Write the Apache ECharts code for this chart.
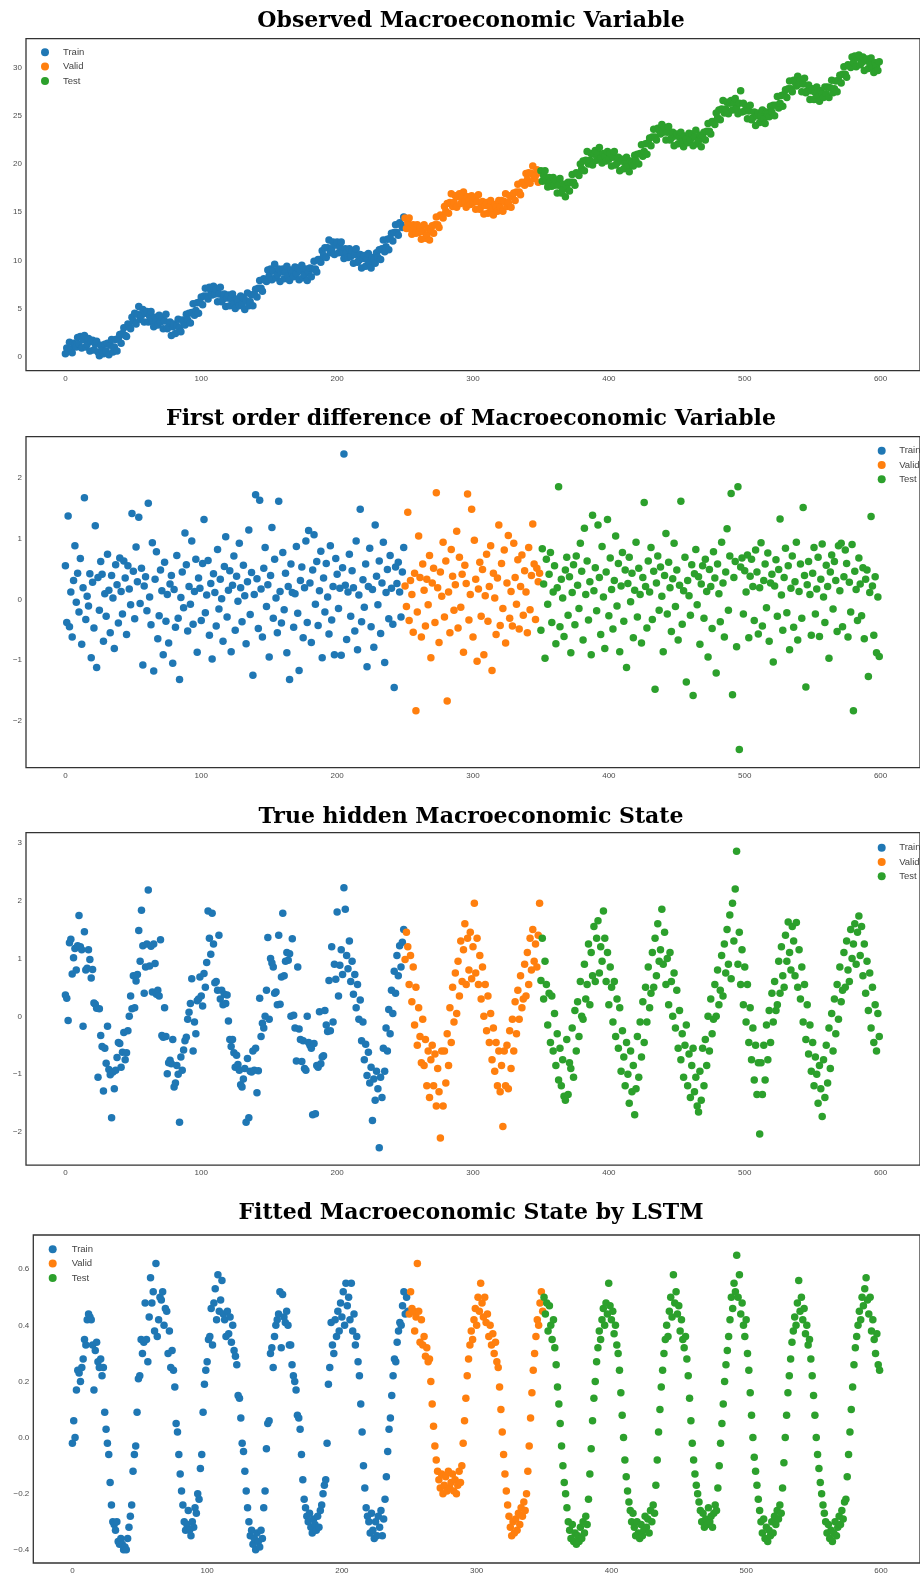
<!DOCTYPE html>
<html><head><meta charset="utf-8">
<script src="https://cdn.jsdelivr.net/npm/echarts@6/dist/echarts.min.js"></script>
<style>html,body{margin:0;padding:0;background:#fff}#c{width:920px;height:1575px}</style>
</head><body><div id="c"></div>
<script>
// ---------------- DATA ----------------
const splitNames = ['Train', 'Valid', 'Test'];
const panelTitles = [
  'Observed Macroeconomic Variable',
  'First order difference of Macroeconomic Variable',
  'True hidden Macroeconomic State',
  'Fitted Macroeconomic State by LSTM'
];
const xTickValues = [0, 100, 200, 300, 400, 500, 600];
const observedTicks = [0, 5, 10, 15, 20, 25, 30];
const diffTicks = [-2, -1, 0, 1, 2];
const hiddenTicks = [-2, -1, 0, 1, 2, 3];
const fittedTicks = [-0.4, -0.2, 0.0, 0.2, 0.4, 0.6];

// Panel 1: observed variable
const observedTrain = [
0.3,0.9,0.6,1.5,0.8,0.4,1.4,1.2,1.0,2.0,1.3,2.1,0.9,1.8,2.2,1.0,1.3,1.9,0.6,1.6,
1.7,0.7,1.3,1.6,0.5,0.1,1.2,0.7,0.3,1.3,0.6,1.4,0.2,1.2,1.8,0.5,1.0,1.8,0.6,1.9,
2.3,1.4,2.4,3.0,2.2,2.1,3.4,3.2,2.9,4.1,3.7,4.5,3.4,4.4,5.2,3.9,4.3,4.9,3.6,4.5,
4.7,3.6,4.2,4.7,3.6,3.1,4.1,3.8,3.3,4.3,3.6,4.1,2.9,3.7,4.4,2.9,3.1,3.6,2.2,3.1,
3.4,2.4,3.2,3.9,3.0,2.6,3.8,3.6,3.3,4.4,3.8,4.5,3.5,4.6,5.5,4.3,4.8,5.6,4.5,5.7,
6.2,5.4,6.3,7.1,6.3,6.0,7.2,6.9,6.4,7.3,6.5,7.0,5.7,6.5,7.2,5.7,6.0,6.5,5.2,6.1,
6.4,5.3,6.0,6.5,5.5,5.0,6.0,5.7,5.3,6.3,5.5,6.1,4.9,5.8,6.6,5.3,5.7,6.4,5.3,6.5,
7.0,6.2,7.1,7.9,7.1,6.8,8.1,8.0,7.8,9.0,8.4,9.1,8.0,8.9,9.6,8.2,8.5,9.1,7.8,8.8,
9.1,8.1,8.8,9.4,8.4,7.9,9.0,8.7,8.3,9.3,8.6,9.2,8.0,8.9,9.5,8.2,8.5,9.1,7.9,8.8,
9.2,8.3,9.1,9.9,9.1,8.8,10.1,10.0,9.8,11.0,10.5,11.3,10.3,11.3,12.1,10.8,11.2,11.9,10.6,11.6,
11.9,10.8,11.4,11.9,10.8,10.2,11.2,10.8,10.3,11.2,10.4,11.0,9.7,10.6,11.2,9.8,10.0,10.6,9.2,10.2,
10.5,9.4,10.1,10.7,9.7,9.2,10.3,10.0,9.7,10.8,10.3,11.1,10.1,11.2,12.1,10.9,11.4,12.2,11.1,12.3,
12.8,12.0,12.9,13.7,12.9,12.6,13.9,13.7,13.4,14.5];
const observedValid = [
14.4,13.3,13.9,14.4,13.3,12.7,13.7,13.3,12.8,13.7,12.9,13.4,12.2,13.0,13.7,12.3,12.6,13.3,12.1,13.2,
13.6,12.8,13.7,14.5,13.7,13.4,14.7,14.6,14.4,15.6,15.1,15.9,14.9,16.0,16.9,15.6,16.0,16.7,15.5,16.6,
16.9,15.9,16.6,17.1,16.1,15.5,16.6,16.2,15.8,16.7,16.0,16.5,15.3,16.1,16.8,15.3,15.6,16.1,14.8,15.7,
16.0,14.9,15.6,16.2,15.2,14.7,15.8,15.5,15.1,16.2,15.5,16.2,15.1,16.1,16.9,15.6,16.0,16.7,15.5,16.6,
17.0,16.2,17.1,17.9,17.1,16.8,18.1,18.0,17.8,19.0,18.4,19.1,18.0,19.0,19.8,18.5,18.8,19.4,18.1,19.1];
const observedTest = [
19.3,18.2,18.8,19.3,18.2,17.6,18.6,18.2,17.7,18.6,17.8,18.3,17.0,17.8,18.5,17.0,17.3,17.9,16.6,17.7,
18.1,17.2,18.1,18.9,18.1,17.8,19.1,19.0,18.8,20.0,19.5,20.3,19.3,20.4,21.3,20.0,20.4,21.1,19.9,21.0,
21.4,20.4,21.1,21.7,20.6,20.1,21.1,20.8,20.3,21.3,20.5,21.1,19.8,20.7,21.3,19.9,20.1,20.7,19.3,20.3,
20.5,19.5,20.1,20.7,19.7,19.2,20.3,20.1,19.8,20.9,20.3,21.0,20.0,21.1,22.0,20.8,21.3,22.1,21.0,22.2,
22.7,21.9,22.8,23.6,22.8,22.5,23.7,23.5,23.1,24.1,23.3,23.8,22.5,23.3,23.9,22.5,22.7,23.3,21.9,22.9,
23.1,22.1,22.8,23.3,22.3,21.8,22.9,22.6,22.2,23.2,22.5,23.1,21.9,22.8,23.5,22.1,22.4,23.0,21.8,22.9,
23.3,22.5,23.4,24.2,23.4,23.1,24.4,24.3,24.1,25.3,24.8,25.6,24.6,25.7,26.6,25.3,25.7,26.4,25.2,26.3,
26.6,25.6,26.3,26.8,25.8,25.2,26.3,27.6,25.4,26.3,25.5,26.0,24.7,25.5,26.1,24.6,24.8,25.4,24.0,25.0,
25.3,24.3,25.0,25.6,24.7,24.2,25.4,25.2,24.9,26.0,25.4,26.1,25.0,26.1,27.0,25.8,26.3,27.1,26.0,27.2,
27.7,26.9,27.8,28.6,27.8,27.5,28.7,28.5,28.1,29.1,28.3,28.8,27.5,28.3,28.9,27.4,27.6,28.2,26.7,27.6,
27.8,26.7,27.4,28.0,27.0,26.5,27.6,27.3,26.9,28.0,27.3,28.0,26.9,27.9,28.7,27.4,27.8,28.6,27.5,28.7,
29.2,28.4,29.3,30.1,29.3,29.0,30.3,30.2,30.0,31.1,30.5,31.2,30.1,31.0,31.3,30.3,30.5,31.1,29.7,30.7,
30.9,29.9,30.5,31.0,30.0,29.5,30.5,30.2,29.7,30.6];

// Panel 2: first order difference
const diffTrain = [
0.55,-0.38,1.37,-0.45,0.12,-0.62,0.31,0.88,-0.05,0.43,-0.21,0.67,-0.74,0.19,1.67,-0.33,0.05,-0.11,0.42,-0.96,
0.28,-0.47,1.21,-1.12,0.36,-0.18,0.62,0.41,-0.69,0.09,-0.28,0.74,0.15,-0.55,0.39,0.02,-0.81,0.57,0.24,-0.39,
0.68,0.13,-0.24,0.63,0.35,-0.58,0.55,0.17,-0.09,1.41,0.46,-0.32,0.86,0.29,1.35,-0.07,0.51,-1.08,0.22,0.37,
-0.19,1.58,0.04,-0.42,0.93,-1.18,0.33,0.78,-0.65,-0.27,0.48,0.14,-0.91,0.61,-0.36,0.08,-0.72,0.25,0.39,-1.05,
0.16,-0.46,0.72,-0.31,-1.32,0.03,0.45,-0.14,1.09,0.57,-0.52,0.21,-0.08,0.96,-0.41,0.13,0.66,-0.87,0.35,0.18,
-0.35,0.59,1.31,-0.22,0.07,0.64,-0.59,0.26,-0.98,0.42,0.11,-0.44,0.82,-0.16,0.33,0.01,-0.69,0.54,1.03,-0.29,
0.15,0.47,-0.86,0.23,0.71,-0.51,0.38,-0.03,0.92,0.19,-0.37,0.56,0.06,-0.73,0.29,1.14,-0.25,0.44,-1.25,0.08,
1.72,0.34,-0.48,1.63,0.17,-0.62,0.51,0.85,-0.12,0.24,-0.95,0.39,1.18,-0.31,0.66,0.02,-0.55,1.61,0.13,-0.39,
0.77,-0.17,0.43,-0.88,0.21,-1.32,0.58,0.11,-0.46,0.09,0.87,-0.23,-1.17,0.31,0.53,-0.63,0.19,0.96,-0.38,1.13,
0.27,-0.71,0.48,1.06,-0.08,0.62,-0.43,0.14,0.79,-0.96,0.35,-0.21,0.59,0.04,-0.57,0.88,-0.34,0.21,-0.91,0.67,
0.41,-0.15,0.18,-0.92,0.52,2.39,0.23,-0.66,0.12,0.74,-0.28,0.47,0.19,-0.52,0.96,-0.83,0.07,1.48,-0.37,0.32,
-0.13,0.58,-1.11,0.21,0.84,-0.45,0.16,-0.79,1.22,0.38,-0.09,0.63,-0.56,0.27,0.94,-1.04,0.11,0.49,-0.32,0.72,
0.18,-0.41,-1.45,0.53,0.26,0.61,0.12,-0.29,0.45,0.85];
const diffValid = [
0.22,-0.12,1.43,-0.35,0.31,0.08,-0.54,0.43,-1.83,-0.21,1.04,0.36,-0.62,0.58,0.15,-0.44,0.33,-0.09,0.72,-0.96,
0.27,0.51,-0.38,1.75,0.19,-0.71,0.45,0.05,0.94,-0.29,0.63,-1.67,0.12,-0.55,0.82,0.38,-0.18,0.24,1.12,-0.47,
0.69,-0.13,0.41,-0.87,0.56,0.26,1.73,-0.34,0.08,1.48,-0.62,0.97,0.33,-1.02,0.17,0.61,-0.28,0.49,-0.91,0.06,
0.74,-0.36,0.21,0.88,-1.17,0.43,0.02,-0.58,0.35,1.22,-0.43,0.59,-0.15,0.81,-0.72,0.27,1.05,-0.31,0.13,-0.44,
0.92,0.36,-0.08,0.65,-0.49,0.21,0.73,-0.26,0.47,0.12,-0.55,0.85,-0.17,0.39,1.24,0.58,-0.33,0.51,0.29,0.43];
const diffTest = [
-0.51,0.83,0.25,-0.97,0.66,-0.08,0.41,0.77,-0.38,0.12,0.55,-0.73,0.19,1.85,-0.45,0.33,0.02,-0.61,0.48,0.69,
-0.26,0.37,-0.88,0.11,0.57,-0.42,0.71,0.23,-0.15,0.92,0.46,-0.67,1.17,0.08,0.63,-0.34,0.29,-0.91,1.38,0.14,
0.52,-0.19,1.22,0.36,-0.58,0.87,0.04,-0.81,0.45,1.31,-0.27,0.68,0.16,-0.49,0.31,1.04,-0.11,0.59,-0.86,0.22,
0.77,-0.36,0.48,-1.12,0.26,0.69,-0.04,0.43,-0.63,0.15,0.94,-0.29,0.51,0.08,-0.72,0.36,1.59,0.21,-0.47,0.63,
0.12,0.85,-0.33,0.46,-1.48,0.27,0.71,-0.18,0.53,0.05,-0.86,0.39,1.08,-0.24,0.61,0.19,-0.53,0.34,0.92,-0.12,
0.48,-0.67,0.23,1.61,-0.41,0.14,0.69,-1.36,0.31,0.06,-0.26,0.57,-1.58,0.42,0.82,-0.09,0.37,-0.74,0.25,0.55,
-0.31,0.66,0.13,-0.95,0.49,0.21,-0.48,0.78,0.35,-1.21,0.58,0.09,-0.37,0.94,0.27,-0.62,0.45,1.16,-0.18,0.71,
1.74,-1.57,0.36,0.62,-0.78,1.85,-2.47,0.53,0.68,-0.24,0.47,0.12,0.73,-0.63,0.38,0.66,0.21,-0.35,0.81,0.45,
-0.57,0.19,0.93,-0.44,0.31,0.58,-0.14,0.76,-0.69,0.27,0.41,-1.03,0.22,0.65,-0.28,0.49,1.32,0.07,-0.51,0.36,
0.84,-0.22,0.55,-0.83,0.18,0.71,-0.46,0.29,0.94,-0.67,0.13,0.58,-0.31,1.51,0.39,-1.44,0.24,0.62,0.08,-0.59,
0.43,0.85,-0.24,0.17,0.69,-0.61,0.33,0.91,0.04,-0.38,0.56,0.21,-0.97,0.45,0.73,-0.16,0.62,0.31,-0.53,0.88,
0.14,0.92,-0.45,0.37,0.81,0.59,-0.62,0.28,-0.21,0.9,-1.83,0.46,0.16,-0.35,0.68,0.25,-0.27,0.52,-0.65,0.33,
0.48,-1.27,0.11,1.36,0.22,-0.59,0.37,-0.88,0.04,-0.94];

// Panel 3: true hidden state
const hiddenTrain = [
0.37,0.31,-0.07,1.27,1.33,0.73,1.01,1.17,0.8,1.22,1.74,1.2,
1.15,-0.17,1.46,0.8,0.83,1.15,0.98,0.66,0.81,0.23,0.21,0.14,-1.05,0.13,-0.33,-0.52,-1.29,-0.55,-0.81,-0.17,-0.92,-1.01,-1.75,-0.96,
-1.25,-0.93,-0.71,-0.45,-0.47,-0.88,-0.62,-0.28,-0.75,-0.63,-0.25,0.0,0.35,0.13,0.7,0.15,0.61,0.72,1.48,0.95,1.83,1.22,0.4,0.85,1.25,2.18,
0.87,1.21,0.42,1.25,0.91,0.38,0.45,0.35,1.32,-0.33,-0.36,0.15,-0.35,-0.99,-0.8,-0.76,-0.82,-0.4,-1.22,-1.15,-0.85,-1.0,-1.83,-0.7,
-0.93,-0.58,-0.42,-0.36,-0.05,0.07,0.22,0.65,-0.6,-0.1,-0.3,0.27,0.3,0.68,0.35,0.18,0.74,0.5,0.93,1.82,1.35,1.07,1.78,
1.25,0.58,0.6,0.45,1.4,0.3,0.45,0.2,0.38,0.22,0.37,-0.08,-0.4,-0.52,-0.4,-0.63,-0.88,-0.67,-0.83,-0.93,-1.18,-1.22,-1.08,-0.9,-1.83,-0.73,-1.75,
-0.95,-0.96,-0.6,-0.93,-0.55,-1.32,-0.94,0.31,-0.35,-0.12,-0.2,0.0,0.45,1.36,-0.05,1.0,0.92,0.85,0.4,0.42,0.2,1.4,0.21,0.68,1.78,0.7,
0.95,1.1,0.97,1.08,0.0,1.34,0.02,-0.2,-0.77,0.85,-0.22,-0.4,-0.78,-0.42,-0.9,-0.93,0.0,-0.45,-0.5,-0.55,-1.7,-0.47,-1.68,-0.85,
-0.88,0.08,-0.82,-0.7,-0.68,0.1,-0.15,-0.26,0.62,-0.25,1.2,-0.1,0.9,0.64,1.8,0.35,0.88,1.15,0.72,2.22,
1.85,1.05,0.82,1.3,0.6,0.95,0.38,0.72,0.15,0.55,-0.05,0.28,-0.42,-0.1,-0.75,-0.48,-1.02,-0.62,-1.15,-0.88,-1.8,-1.08,-1.45,-0.95,-1.25,-2.27,
-1.05,-1.4,-0.55,-0.95,-0.2,-0.6,0.12,-0.3,0.45,0.05,0.78,0.4,1.05,0.7,1.22,0.85,1.28,1.5];
const hiddenValid = [
0.98,1.45,1.2,0.55,1.05,0.25,0.85,-0.15,0.5,-0.5,0.15,-0.35,-0.8,-0.05,-0.85,-0.4,-1.2,-0.6,-1.4,-0.75,-0.5,-1.2,-0.65,-1.55,-0.9,-1.3,-2.1,-0.6,
-1.55,-0.6,-1.15,-0.3,-0.85,0.15,-0.45,0.5,-0.1,0.75,0.05,0.95,0.35,1.3,0.6,1.15,1.6,0.55,1.35,0.8,1.45,0.65,1.2,1.95,0.75,
1.35,0.55,1.05,0.3,0.85,0.0,0.55,-0.25,0.35,-0.45,0.05,-0.75,-0.2,-0.95,-0.45,-1.2,-0.6,-1.3,-0.85,-1.9,-0.6,
-1.2,-0.5,-1.25,-0.25,-0.9,-0.05,-0.6,0.25,-0.3,0.45,-0.05,0.7,0.15,0.3,0.9,0.35,1.1,0.55,1.35,0.8,1.5,0.95,1.25,0.85,1.4,1.95];
const hiddenTest = [
0.62,1.35,0.3,0.95,0.55,-0.15,0.4,-0.45,0.35,-0.6,0.05,-0.85,-0.3,-1.1,-0.55,-1.2,-0.75,-1.38,-1.45,
-0.4,-1.35,-0.8,-0.9,-0.2,-1.05,0.1,-0.6,0.25,-0.35,0.6,0.0,-0.05,0.9,0.3,0.55,1.25,0.2,1.1,0.7,1.55,0.6,1.35,1.65,0.75,1.2,0.95,1.82,
1.35,0.6,1.1,0.2,0.85,0.5,-0.1,0.6,-0.35,0.3,-0.55,0.15,-0.95,-0.25,-0.7,-1.2,-0.45,-1.0,-1.5,-0.6,-1.3,-0.85,-1.7,
-1.25,-0.35,-1.05,-0.1,-0.7,0.25,-0.45,0.5,-0.1,0.85,0.15,0.4,1.1,0.5,1.35,0.7,1.6,0.95,1.15,1.85,0.9,
1.45,0.55,1.0,0.2,1.1,0.6,0.0,0.75,-0.2,0.45,-0.55,0.1,-0.75,-0.3,-1.05,-0.5,-0.15,-1.2,-0.65,-1.4,-0.85,-0.55,-1.3,-1.05,-1.55,-1.65,
-0.95,-1.45,-0.55,-1.2,-0.4,-0.85,0.0,-0.6,0.3,-0.3,-0.05,0.55,0.0,0.8,0.2,0.45,1.05,0.35,1.25,0.75,1.5,0.9,1.75,0.65,1.95,1.3,2.2,2.85,
0.9,1.45,0.55,1.15,0.2,0.85,-0.1,0.55,-0.45,0.15,-0.75,-0.2,-1.1,-0.5,-1.35,-0.8,-2.03,
-0.8,-1.35,-0.5,-1.1,-0.15,-0.75,0.1,-0.45,0.4,-0.1,0.6,0.1,0.2,0.95,0.4,1.2,0.7,0.5,1.4,0.95,1.63,1.1,0.8,1.55,
1.3,0.7,1.62,0.5,1.15,0.3,0.85,-0.1,0.55,-0.4,0.2,-0.65,-0.15,-0.95,-0.45,-1.2,-0.7,-1.0,-1.5,-0.85,-1.25,-1.73,
-0.75,-1.4,-0.5,-1.15,-0.2,-0.9,0.05,-0.6,0.3,-0.3,0.55,-0.05,0.85,0.25,0.45,1.1,0.5,1.3,0.8,0.6,1.5,1.0,1.25,1.6,0.9,1.45,1.73,
1.05,1.55,0.7,1.25,0.4,0.95,0.1,0.75,-0.2,0.5,-0.45,0.2,-0.6,0.05,-0.35];

// Panel 4: fitted state by LSTM
const fittedTrain = [
-0.02,0.06,0.0,0.17,0.24,0.23,0.2,0.25,0.28,0.35,0.33,0.42,0.44,0.43,0.42,0.33,0.17,0.31,0.34,0.27,0.25,0.28,0.22,0.25,0.09,
0.03,-0.02,-0.06,-0.16,-0.24,-0.3,-0.31,-0.33,-0.3,-0.37,-0.38,-0.36,-0.38,-0.4,-0.39,-0.4,-0.36,-0.32,-0.28,-0.24,-0.12,-0.06,-0.03,0.09,0.21,
0.22,0.35,0.3,0.34,0.48,0.35,0.27,0.43,0.57,0.48,0.52,0.38,0.62,0.36,0.42,0.5,0.49,0.52,0.4,0.46,0.45,0.3,0.38,0.25,0.31,
0.24,0.18,0.05,0.02,-0.06,-0.13,-0.19,-0.24,-0.3,-0.33,-0.31,-0.26,-0.33,-0.35,-0.3,-0.32,-0.25,-0.27,-0.2,-0.22,-0.11,-0.06,0.09,0.19,0.24,
0.27,0.35,0.36,0.46,0.33,0.48,0.53,0.42,0.58,0.45,0.49,0.56,0.44,0.42,0.36,0.45,0.37,0.43,0.34,0.4,0.31,0.29,0.26,0.15,0.14,
0.07,-0.02,-0.05,-0.12,-0.19,-0.25,-0.3,-0.35,-0.33,-0.38,-0.36,-0.4,-0.34,-0.37,-0.39,-0.33,-0.36,-0.25,-0.19,-0.04,0.05,0.06,0.3,0.32,0.25,
0.36,0.4,0.42,0.44,0.52,0.32,0.51,0.43,0.41,0.45,0.4,0.33,0.33,0.26,0.22,0.2,0.17,0.08,0.07,0.03,-0.06,-0.15,-0.22,-0.25,-0.28,
-0.3,-0.27,-0.32,-0.34,-0.29,-0.31,-0.33,-0.28,-0.32,-0.26,-0.24,-0.2,-0.17,-0.15,-0.02,0.19,0.25,0.41,0.33,
0.3,0.42,0.36,0.45,0.38,0.48,0.43,0.52,0.4,0.55,0.47,0.5,0.42,0.55,0.38,0.44,0.33,0.36,0.27,0.22,
0.12,0.02,-0.1,-0.18,-0.25,-0.28,-0.3,-0.34,-0.27,-0.33,-0.36,-0.3,-0.35,-0.28,-0.32,-0.26,-0.35,-0.29,-0.22,-0.14,
-0.05,0.03,0.07,0.15,0.22,0.28,0.27,0.34,0.38,0.41,0.4,0.47,0.52,0.44,0.5,0.45];
const fittedValid = [
0.44,0.52,0.46,0.45,0.38,0.43,0.62,0.45,0.34,0.42,0.33,0.36,0.29,0.32,0.27,0.28,
0.2,0.12,0.04,-0.03,-0.08,-0.12,
-0.15,-0.18,-0.13,-0.2,-0.17,-0.14,-0.19,-0.12,-0.18,-0.16,-0.13,-0.19,-0.15,-0.2,-0.17,-0.12,-0.16,-0.1,
-0.02,0.06,0.14,0.22,0.28,
0.33,0.38,0.35,0.42,0.46,0.4,0.5,0.45,0.55,0.48,0.43,0.5,0.41,0.44,0.36,0.4,0.33,0.37,0.3,0.34,0.27,0.25,
0.18,0.1,0.02,-0.06,-0.13,-0.19,-0.24,
-0.28,-0.32,-0.35,-0.3,-0.34,-0.29,-0.33,-0.27,-0.31,-0.25,-0.28,-0.23,-0.26,-0.2,
-0.12,-0.03,0.07,0.16,0.24,
0.3,0.36,0.42,0.4,0.48,0.52,0.45];
const fittedTest = [
0.5,0.44,0.48,0.38,0.47,0.4,0.35,0.42,0.32,
0.26,0.18,0.12,0.05,-0.03,-0.1,-0.16,-0.2,-0.25,-0.3,
-0.33,-0.36,-0.31,-0.37,-0.34,-0.38,-0.35,-0.37,-0.32,-0.36,-0.3,-0.34,-0.28,-0.31,
-0.22,-0.13,-0.04,0.06,0.14,0.2,0.27,
0.32,0.38,0.35,0.42,0.46,0.4,0.48,0.44,0.55,0.47,0.42,0.45,0.37,0.4,0.33,0.3,
0.24,0.16,0.08,0.0,-0.08,-0.14,-0.19,-0.23,
-0.26,-0.3,-0.27,-0.32,-0.35,-0.3,-0.34,-0.36,-0.31,-0.35,-0.33,-0.28,-0.32,-0.29,-0.34,-0.26,-0.3,-0.24,-0.27,
-0.17,-0.08,0.02,0.1,0.18,0.24,
0.3,0.35,0.4,0.36,0.45,0.5,0.43,0.58,0.48,0.52,0.44,0.47,0.38,0.42,0.35,0.32,0.36,0.28,
0.22,0.14,0.06,-0.02,-0.08,-0.13,-0.17,-0.2,-0.23,
-0.26,-0.3,-0.27,-0.32,-0.29,-0.31,-0.25,-0.3,-0.28,-0.32,-0.27,-0.24,-0.26,
-0.18,-0.1,-0.02,0.05,0.12,0.2,0.26,0.31,
0.36,0.42,0.5,0.46,0.55,0.52,0.65,0.5,0.58,0.44,0.48,0.4,0.36,0.42,0.3,
0.24,0.16,0.08,0.0,-0.07,-0.12,-0.17,-0.22,
-0.26,-0.3,-0.34,-0.29,-0.36,-0.32,-0.37,-0.33,-0.35,-0.3,-0.34,-0.28,-0.31,-0.26,-0.29,-0.24,-0.27,
-0.18,-0.09,0.0,0.08,0.16,0.22,0.28,
0.34,0.38,0.43,0.4,0.48,0.56,0.45,0.5,0.42,0.46,0.37,0.4,0.33,0.35,0.28,
0.22,0.15,0.08,0.0,-0.06,-0.11,-0.16,-0.2,-0.24,-0.27,
-0.3,-0.34,-0.31,-0.36,-0.33,-0.37,-0.34,-0.3,-0.35,-0.32,-0.28,-0.31,-0.26,-0.29,-0.23,-0.22,
-0.14,-0.06,0.02,0.1,0.18,0.26,0.32,
0.36,0.4,0.45,0.42,0.5,0.47,0.53,0.57,0.49,0.44,0.5,0.38,0.42,0.35,0.3,0.37,0.26,0.24];

// ---------------- STYLE / LAYOUT ----------------
const COLORS = ['#1f77b4', '#ff7f0e', '#2ca02c'];
const FONT = '"Liberation Sans", Arial, sans-serif';
const panels = [
  { title: panelTitles[0], titleY: 21.5, grid: {left: 26, top: 38.7, width: 899.5, height: 332}, y: [-1.45, 33.0], ticks: observedTicks, dec: 0,
    data: [observedTrain, observedValid, observedTest], legend: {left: 41, top: 46.3, pad: 9} },
  { title: panelTitles[1], titleY: 419.5, grid: {left: 26, top: 436.7, width: 899.5, height: 331}, y: [-2.768, 2.673], ticks: diffTicks, dec: 0,
    data: [diffTrain, diffValid, diffTest], legend: {left: 877.7, top: 444.7, pad: 8.5} },
  { title: panelTitles[2], titleY: 817, grid: {left: 26, top: 832.7, width: 899.5, height: 332.5}, y: [-2.57, 3.17], ticks: hiddenTicks, dec: 0,
    data: [hiddenTrain, hiddenValid, hiddenTest], legend: {left: 877.7, top: 841.7, pad: 8.5} },
  { title: panelTitles[3], titleY: 1213.5, grid: {left: 33.3, top: 1235, width: 899.5, height: 329}, y: [-0.447, 0.722], ticks: fittedTicks, dec: 1,
    data: [fittedTrain, fittedValid, fittedTest], legend: {left: 48.7, top: 1243.3, pad: 10} }
];

function fmt(dec) {
  return function (v) {
    const s = Math.abs(v).toFixed(dec);
    return (v < -1e-9 ? '\u2212' : '') + s;
  };
}

const option = {
  animation: false,
  backgroundColor: '#fff',
  textStyle: { fontFamily: FONT },
  grid: [], xAxis: [], yAxis: [], series: [], legend: [], graphic: []
};

panels.forEach((p, i) => {
  option.grid.push(Object.assign({ show: true, borderColor: '#333', borderWidth: 1.3, backgroundColor: 'transparent' }, p.grid));
  option.xAxis.push({
    type: 'value', gridIndex: i, min: -29, max: 629,
    axisLine: { show: false }, axisTick: { show: false }, splitLine: { show: false },
    axisLabel: { customValues: xTickValues, fontSize: 8, color: '#4d4d4d', margin: 4, fontFamily: FONT }
  });
  option.yAxis.push({
    type: 'value', gridIndex: i, min: p.y[0], max: p.y[1],
    axisLine: { show: false }, axisTick: { show: false }, splitLine: { show: false },
    axisLabel: { customValues: p.ticks, fontSize: 8, color: '#4d4d4d', margin: 4, fontFamily: FONT, formatter: fmt(p.dec) }
  });
  let offset = 0;
  p.data.forEach((arr, k) => {
    const start = offset;
    option.series.push({
      type: 'scatter', name: splitNames[k], xAxisIndex: i, yAxisIndex: i,
      symbolSize: 7.5,
      itemStyle: { color: COLORS[k], opacity: 1 },
      data: arr.map((v, j) => [start + j, v])
    });
    offset += arr.length;
  });
  option.legend.push({
    orient: 'vertical', left: p.legend.left, top: p.legend.top,
    data: splitNames, icon: 'circle', itemWidth: 8, itemHeight: 8, itemGap: 2.3,
    selectedMode: false, padding: 0,
    textStyle: { fontSize: 9.5, color: '#444', fontFamily: FONT, lineHeight: 12, padding: [0, 0, 0, p.legend.pad] }
  });
  option.graphic.push({
    type: 'text', x: 471, y: p.titleY,
    style: { text: p.title, font: 'bold 22px "DejaVu Serif", serif', fill: '#000', textAlign: 'center', textVerticalAlign: 'middle' }
  });
});

const chart = echarts.init(document.getElementById('c'), null, { renderer: 'canvas' });
chart.setOption(option);
</script>
</body></html>
